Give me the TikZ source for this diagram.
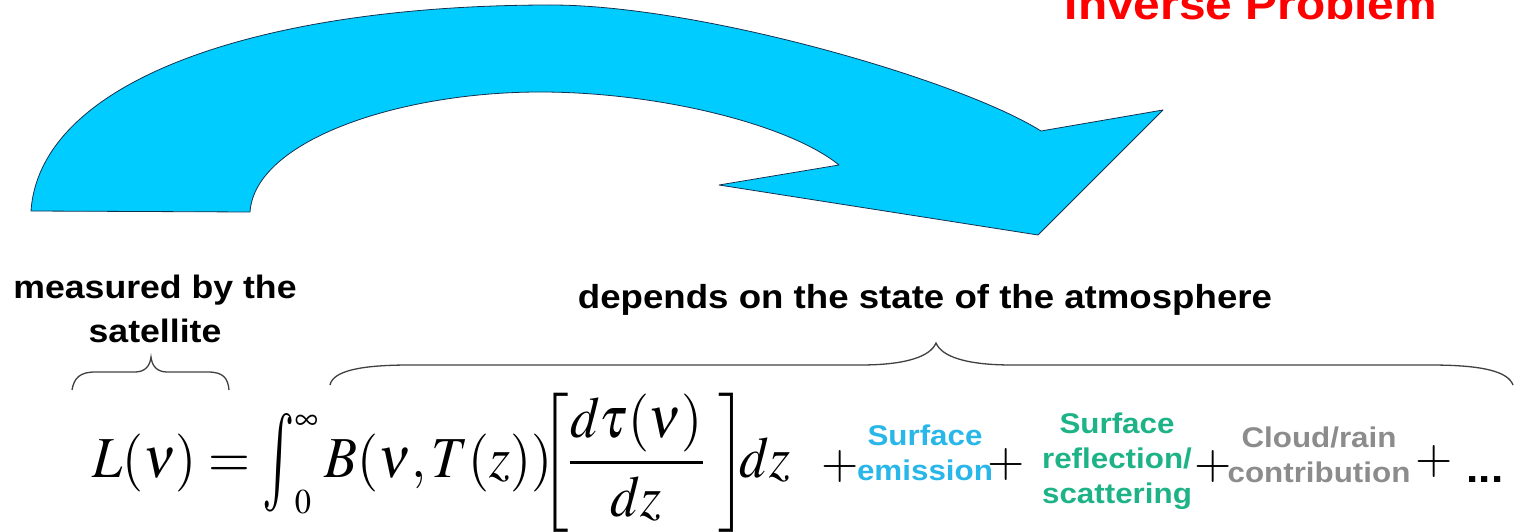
\documentclass[tikz,border=0pt]{standalone}
\usepackage{amsmath}
\usepackage{mathptmx}
\usepackage[no-math]{fontspec}
\newfontfamily\lblfont[FakeStretch=1.1]{Liberation Sans}
\usetikzlibrary{positioning}
\definecolor{arrowblue}{RGB}{0,204,255}
\definecolor{edgenavy}{RGB}{20,50,80}
\definecolor{emisblue}{RGB}{41,182,232}
\definecolor{reflgreen}{RGB}{29,179,135}
\definecolor{cloudgray}{RGB}{140,140,140}
\newcommand{\tallint}{\mathop{\vcenter{\hbox{\scalebox{1}[1.7]{$\int$}}}}\nolimits}

\begin{document}
\begin{tikzpicture}[
    x=1pt, y=-1pt,
    heading/.style={
        font=\lblfont\bfseries\fontsize{32.4}{44}\selectfont,
        align=center, inner sep=0pt, anchor=base
    },
    term/.style={
        font=\lblfont\bfseries\fontsize{28.5}{35}\selectfont,
        align=center, inner sep=0pt, anchor=base
    },
    plus/.style={font=\fontsize{48}{50}\selectfont, inner sep=0pt},
    brace/.style={draw=black!75, line width=1.3pt},
    bigarrow/.style={fill=arrowblue, draw=edgenavy, line width=0.8pt, line join=round}
]
\useasboundingbox (0,0) rectangle (1515,532);

% Curved arrow
\path[bigarrow] (31,211) .. controls (40,80) and (260,5) .. (551,5)
    .. controls (700,5) and (960,80) .. (1041,131)
    -- (1163,110) -- (1038,235) -- (719,185) -- (839,165)
    .. controls (790,125) and (660,92) .. (540,92)
    .. controls (400,92) and (255,140) .. (250,212) -- cycle;

% Title
\node[heading, text=red, font=\lblfont\bfseries\fontsize{43.5}{50}\selectfont] (inverse) at (1251,20) {"Inverse Problem"};

% Headings
\node[heading] (measured) at (155,342) {measured by the\\satellite};
\node[heading, font=\lblfont\bfseries\fontsize{33.3}{44}\selectfont] (depends) at (925,308) {depends on the state of the atmosphere};

% Braces
\draw[brace] (72,390) .. controls (74,378) and (80,372) .. (95,372) -- (135,372)
    .. controls (145,372) and (150,366) .. (151,357)
    .. controls (152,366) and (157,372) .. (167,372) -- (208,372)
    .. controls (223,372) and (228,378) .. (229,390);
\draw[brace] (330,385) .. controls (333,371) and (360,365) .. (410,365) -- (860,365)
    .. controls (905,365) and (930,357) .. (936,343)
    .. controls (942,357) and (967,365) .. (1012,365) -- (1430,365)
    .. controls (1485,365) and (1508,372) .. (1513,385);

% Equation
\node[inner sep=0pt, anchor=base west, font=\fontsize{58}{70}\selectfont] (eq) at (92,477)
    {\scalebox{0.93}[1]{$L(\nu) = \tallint_{\scriptscriptstyle 0}^{\scriptscriptstyle\infty} B(\nu, T(z))\mkern-4mu{\left[\dfrac{d\tau(\nu)}{dz}\mkern5mu\right]}\mkern-2.5mu dz$}};

% Extra terms
\node[plus] (plusA) at (840,467) {$+$};
\node[term, text=emisblue] (emission) at (925,480) {Surface\\emission};
\node[plus] (plusB) at (1006,465) {$+$};
\node[term, text=reflgreen] (reflection) at (1117,503) {Surface\\reflection/\\scattering};
\node[plus] (plusC) at (1213,467) {$+$};
\node[term, text=cloudgray] (cloud) at (1319,482) {Cloud/rain\\contribution};
\node[plus] (plusD) at (1434,462) {$+$};
\node[heading, font=\lblfont\bfseries\fontsize{40}{44}\selectfont] (dots) at (1485,482) {...};

\end{tikzpicture}
\end{document}
